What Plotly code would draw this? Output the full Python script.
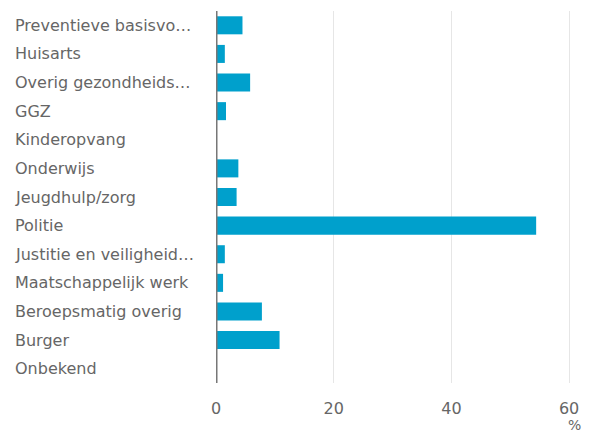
import plotly.graph_objects as go

categories = ["Preventieve basisvo…", "Huisarts", "Overig gezondheids…", "GGZ", "Kinderopvang",
              "Onderwijs", "Jeugdhulp/zorg", "Politie", "Justitie en veiligheid…",
              "Maatschappelijk werk", "Beroepsmatig overig", "Burger", "Onbekend"]
values = [4.5, 1.5, 5.8, 1.7, 0, 3.8, 3.5, 54.4, 1.5, 1.2, 7.8, 10.8, 0]
tick_vals = [0, 20, 40, 60]
tick_text = ["0", "20", "40", "60"]

FONT = "DejaVu Sans"
GREY = "#666666"

fig = go.Figure()
fig.add_trace(go.Bar(
    y=categories, x=values, orientation="h",
    marker=dict(color="#00A0CC", line=dict(width=0)),
    hoverinfo="x+y",
))

annotations = [dict(x=0, xref="paper", y=c, yref="y", text=c, showarrow=False,
                    xanchor="left", yanchor="middle", xshift=-203,
                    font=dict(family=FONT, size=16, color=GREY)) for c in categories]
annotations.append(dict(x=60, xref="x", y=0, yref="paper", text="%", showarrow=False,
                        xanchor="center", yanchor="top", xshift=5, yshift=-32,
                        font=dict(family=FONT, size=14, color=GREY)))

# page has an 8px body margin; figure sized to fill the 594x434 window
fig.update_layout(
    width=586, height=426,
    margin=dict(l=208, r=19, t=3, b=51),
    paper_bgcolor="white", plot_bgcolor="white",
    showlegend=False,
    bargap=0.37,
    font=dict(family=FONT, size=16, color=GREY),
    xaxis=dict(range=[0, 61], tickvals=tick_vals, ticktext=tick_text,
               showgrid=True, gridcolor="#e6e6e6", gridwidth=1,
               zeroline=False, showline=False, ticks="", ticklabelstandoff=14,
               tickfont=dict(family=FONT, size=16, color=GREY), fixedrange=True),
    yaxis=dict(autorange="reversed", showticklabels=False, showgrid=False,
               zeroline=False, showline=False, ticks="", fixedrange=True),
    annotations=annotations,
    shapes=[dict(type="line", xref="x", yref="paper", x0=0, x1=0, y0=0, y1=1,
                 line=dict(color="#777777", width=3), layer="above")],
)

fig.write_html("out.html")
